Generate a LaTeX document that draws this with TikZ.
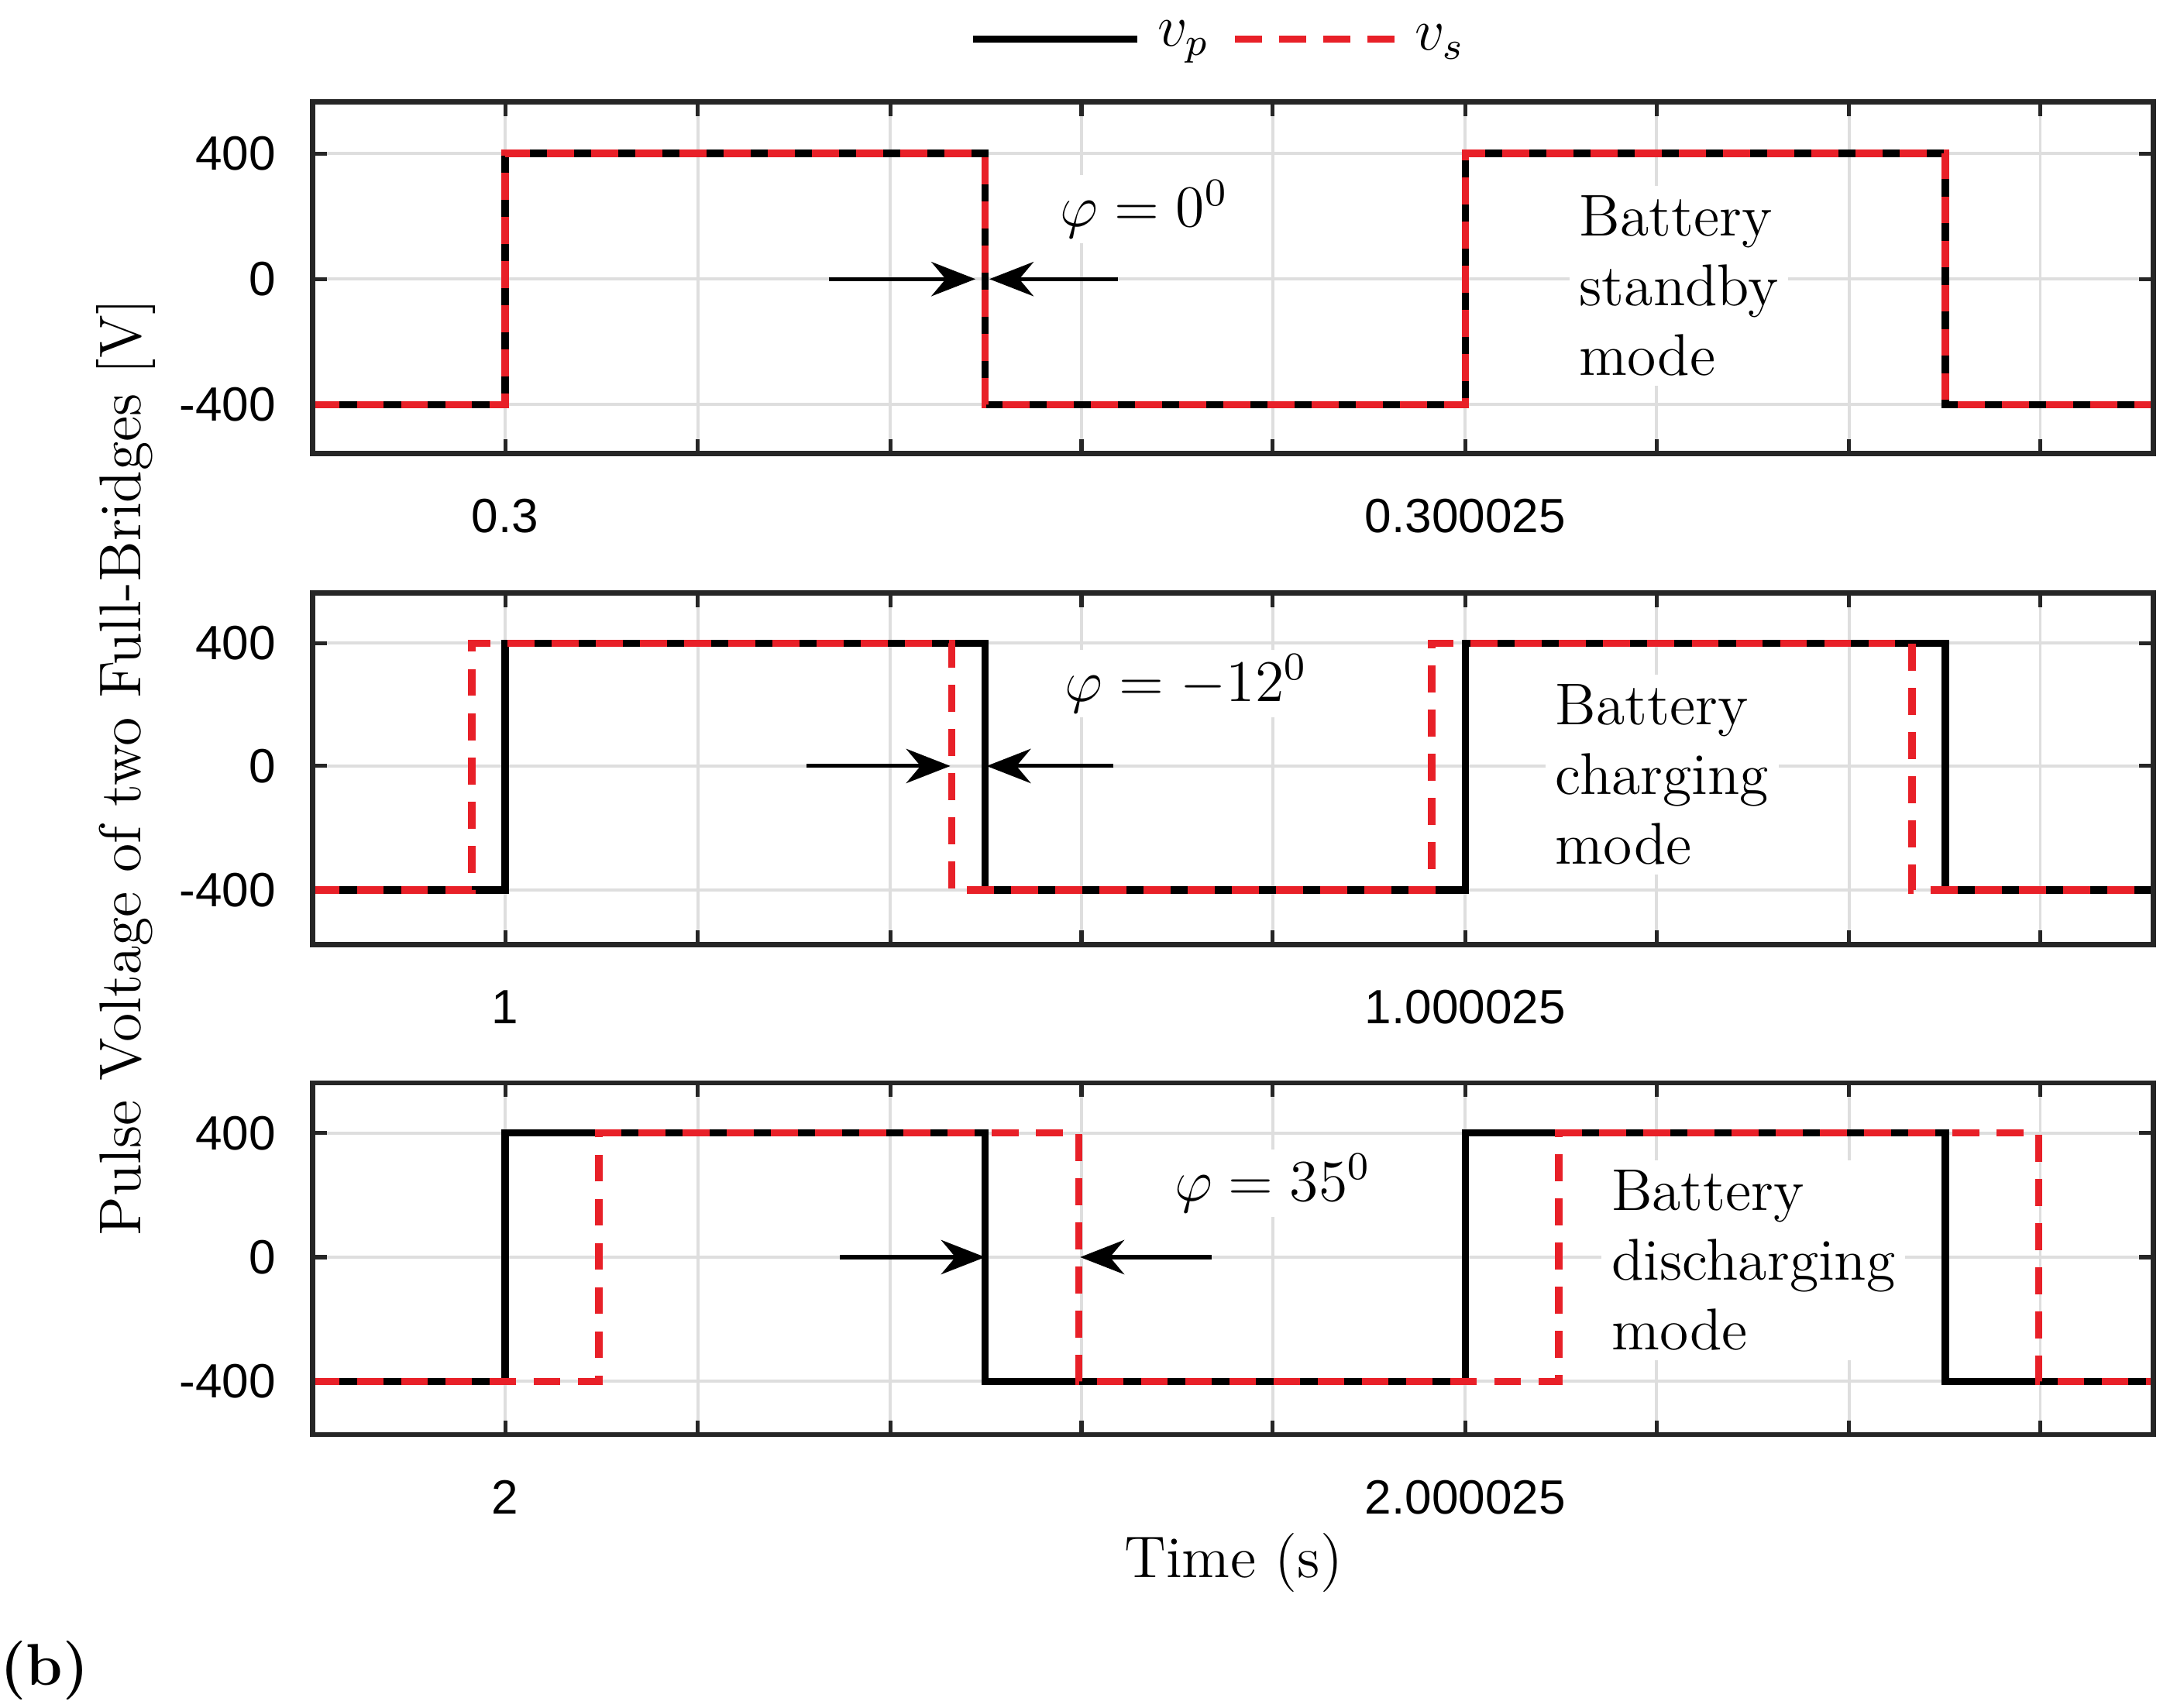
\documentclass[tikz,border=0pt]{standalone}
\usepackage{fontspec}
\setmainfont{Latin Modern Roman}
\newfontfamily\tick{Liberation Sans}
\usetikzlibrary{arrows.meta}
\definecolor{vsred}{RGB}{232,32,40}
\begin{document}
\begin{tikzpicture}[x=0.01cm,y=-0.01cm,
  frame/.style={draw=black!85,line width=1pt},
  grid/.style={draw=black!13,line width=0.6pt},
  vp/.style={draw=black,line width=1.5pt},
  vs/.style={draw=vsred,line width=1.5pt,dash pattern=on 5.5pt off 3.5pt},
  tl/.style={font=\tick\fontsize{9.8}{11}\selectfont},
  lab/.style={font=\fontsize{12}{14}\selectfont},
  arr/.style={-{Stealth[length=9pt,width=7pt]},line width=0.8pt},
  bat/.style={font=\fontsize{12}{14.2}\selectfont,align=left,anchor=west,fill=white,inner sep=2pt}]
\useasboundingbox (0,0) rectangle (1560,1224);
\foreach \T/\a/\b/\c/\la/\lb/\s in {73/110/200/290/0.3/0.300025/0, 425/461/549/638/1/1.000025/-24, 776/812/901/990/2/2.000025/67}{
  \pgfmathsetmacro{\B}{\T+252}
  \foreach \gx in {362,500,638,775,912,1050,1187,1325,1462}{
    \draw[grid] (\gx,\T) -- (\gx,\B);
    \draw[frame,line width=0.8pt] (\gx,\T) -- ++(0,10) (\gx,\B) -- ++(0,-10);}
  \foreach \gy in {\a,\b,\c}{
    \draw[grid] (224,\gy) -- (1543,\gy);
    \draw[frame,line width=0.8pt] (224,\gy) -- ++(10,0) (1543,\gy) -- ++(-10,0);}
  \node[tl,anchor=east] at (210,\a) {400};
  \node[tl,anchor=east] at (210,\b) {0};
  \node[tl,anchor=east] at (210,\c) {-400};
  \node[tl] at (362,\B+45) {\la};
  \node[tl] at (1050,\B+45) {\lb};
}
\node[bat] (t1) at (1124,205) {Battery\\standby\\mode};
\node[bat] (t2) at (1107,555) {Battery\\charging\\mode};
\node[bat] (t3) at (1147,903) {Battery\\discharging\\mode};
\node[lab,fill=white,inner sep=1pt] (f1) at (820,150) {$\varphi=0^0$};
\node[lab,fill=white,inner sep=1pt] (f2) at (850,490) {$\varphi=-12^0$};
\node[lab,fill=white,inner sep=1pt] (f3) at (912,848) {$\varphi=35^0$};
\foreach \T/\a/\b/\c/\s in {73/110/200/290/0, 425/461/549/638/-24, 776/812/901/990/67}{
  \pgfmathsetmacro{\ea}{362+\s}\pgfmathsetmacro{\eb}{706+\s}
  \pgfmathsetmacro{\ec}{1050+\s}\pgfmathsetmacro{\ed}{1394+\s}
  \draw[vp] (224,\c) -- (362,\c) -- (362,\a) -- (706,\a) -- (706,\c) -- (1050,\c) -- (1050,\a) -- (1394,\a) -- (1394,\c) -- (1543,\c);
  \draw[vs] (224,\c) -- (\ea,\c) -- (\ea,\a) -- (\eb,\a) -- (\eb,\c) -- (\ec,\c) -- (\ec,\a) -- (\ed,\a) -- (\ed,\c) -- (1543,\c);
  \draw[frame] (224,\T) rectangle (1543,\T+252);
}
\coordinate (a1s) at (594,200); \coordinate (a1e) at (699,200);
\coordinate (b1s) at (801,200); \coordinate (b1e) at (709,200);
\coordinate (a2s) at (578,549); \coordinate (a2e) at (681,549);
\coordinate (b2s) at (798,549); \coordinate (b2e) at (707,549);
\coordinate (a3s) at (602,901); \coordinate (a3e) at (706,901);
\coordinate (b3s) at (868,901); \coordinate (b3e) at (774,901);
\foreach \i in {1,2,3}{\draw[arr] (a\i s) -- (a\i e); \draw[arr] (b\i s) -- (b\i e);}
\coordinate (l1) at (697,28); \coordinate (l2) at (815,28);
\coordinate (l3) at (885,28); \coordinate (l4) at (1002,28);
\draw[vp] (l1) -- (l2); \draw[vs] (l3) -- (l4);
\node[lab] (lp) at (848,30) {$v_p$};
\node[lab] (ls) at (1032,30) {$v_s$};
\node[lab,rotate=90] (yl) at (90,550) {Pulse Voltage of two Full-Bridges [V]};
\node[lab] (xl) at (884,1120) {Time (s)};
\node[lab,font=\bfseries\fontsize{12}{14}\selectfont] (bb) at (32,1197) {(b)};
\end{tikzpicture}
\end{document}
